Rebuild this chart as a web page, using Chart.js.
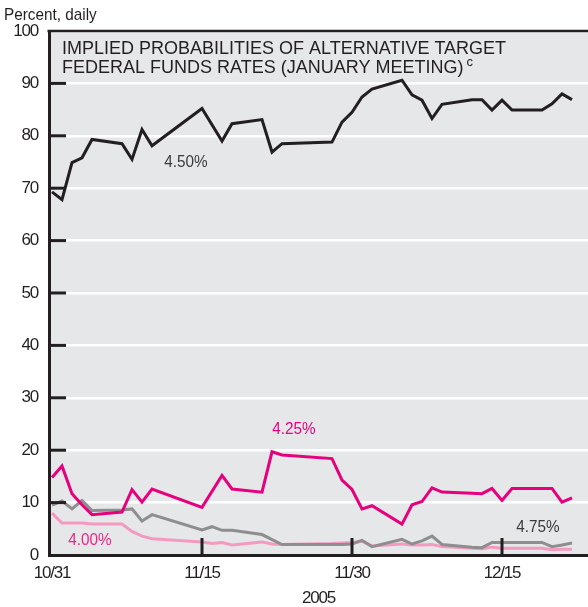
<!DOCTYPE html>
<html>
<head>
<meta charset="utf-8">
<script src="https://cdn.jsdelivr.net/npm/chart.js@4.4.0/dist/chart.umd.min.js"></script>
<style>
  html, body { margin: 0; padding: 0; background: #fff; }
  #wrap { width: 588px; height: 607px; }
</style>
</head>
<body>
<div id="wrap"><canvas id="graph" width="588" height="607"></canvas></div>
<script>
// trading days after 10/31/2005
const days = [0, 1, 2, 3, 4, 7, 8, 9, 10, 15, 16, 17, 18, 21, 22, 23, 28, 29, 30, 31, 32, 35, 36, 37, 38, 39, 42, 43, 44, 45, 46, 49, 50, 51, 52];
const tickDays = [0, 15, 30, 45];
const tickLabels = ["10/31", "11/15", "11/30", "12/15"];

// implied probabilities, percent (null = no visible vertex)
const rate450 = [69.3, 67.8, 74.9, 75.8, 79.3, 78.5, 75.5, 81.2, 78.1, 85.2, null, 79.0, 82.3, 83.1, 76.9, 78.5, 78.8, 82.6, 84.5, 87.4, 88.9, 90.6, 87.8, 86.8, 83.3, 86.0, 86.9, 86.9, 84.9, 86.8, 84.9, 84.9, 86.1, 88.0, 86.9];
const rate425 = [14.8, 17.0, 11.7, 9.6, 7.7, 8.2, 12.5, 10.1, 12.6, 9.1, null, 15.2, 12.6, 12.0, 19.7, 19.1, 18.4, 14.3, 12.5, 8.8, 9.4, 5.9, 9.6, 10.2, 12.8, 12.0, 11.8, 11.7, 12.7, 10.4, 12.7, 12.7, 12.7, 10.1, 10.9];
const rate475 = [9.5, 10.3, 8.8, 10.4, 8.5, 8.6, 8.8, 6.5, 7.7, 4.8, 5.4, 4.7, 4.7, 3.9, null, 2.0, 2.0, 2.0, 2.1, 2.8, 1.6, 3.0, 2.1, 2.7, 3.6, 2.0, 1.5, 1.4, 2.4, 2.4, 2.4, 2.4, 1.6, 1.9, 2.3];
const rate400 = [8.0, 6.1, 6.1, 6.1, 5.9, 5.9, 4.5, 3.6, 3.1, 2.5, 2.2, 2.4, 1.9, 2.5, 2.1, 2.0, 2.2, 2.3, 2.4, 2.6, 1.7, 2.1, 1.9, 1.9, 2.0, 1.6, 1.3, 1.2, 1.5, 1.3, 1.3, 1.3, 1.0, 1.1, 1.1];

const plain = '"Liberation Sans", Arial, sans-serif';
const ink = '#231f20';

function pts(vals) {
    return days.map((d, i) => ({ x: d, y: vals[i] }));
}

// squeeze text sideways, the original uses a condensed face
function narrowText(ctx, text, x, y, align, squeeze) {
    ctx.save();
    ctx.translate(x, y);
    ctx.scale(squeeze, 1);
    ctx.textAlign = align;
    ctx.fillText(text, 0, 0);
    ctx.restore();
}

// gray panel, inner tick marks, top rule and the text
const decor = {
    id: 'decor',
    beforeDraw(chart) {
        const { ctx, chartArea: a } = chart;
        ctx.save();
        ctx.fillStyle = '#e6e7e8';
        ctx.fillRect(a.left, a.top, a.right - a.left, a.bottom - a.top);
        ctx.restore();
        ctx.letterSpacing = '-1.2px'; // tighter tick labels
    },
    afterDraw(chart) {
        const { ctx, chartArea: a } = chart;
        const xs = chart.scales.x, ys = chart.scales.y;
        ctx.letterSpacing = '0px';
        ctx.save();
        ctx.strokeStyle = ink;
        ctx.lineWidth = 3;
        for (let v = 10; v < 100; v += 10) {
            const y = ys.getPixelForValue(v);
            ctx.beginPath(); ctx.moveTo(a.left, y); ctx.lineTo(a.left + 17, y); ctx.stroke();
        }
        for (let i = 1; i < tickDays.length; i++) {
            const x = xs.getPixelForValue(tickDays[i]);
            ctx.beginPath(); ctx.moveTo(x, a.bottom); ctx.lineTo(x, a.bottom - 17); ctx.stroke();
        }
        ctx.lineWidth = 2.5;
        ctx.beginPath(); ctx.moveTo(a.left - 1.5, a.top); ctx.lineTo(a.right, a.top); ctx.stroke();

        ctx.textBaseline = 'middle';
        ctx.fillStyle = ink;
        ctx.font = '17px ' + plain;
        narrowText(ctx, 'Percent, daily', 4, 15, 'left', 0.9);

        ctx.font = '18px ' + plain;
        ctx.textAlign = 'left';
        ctx.fillText('IMPLIED PROBABILITIES OF ALTERNATIVE TARGET', 62, 49);
        const l2 = 'FEDERAL FUNDS RATES (JANUARY MEETING)';
        ctx.fillText(l2, 62, 68);
        const w2 = ctx.measureText(l2).width;
        ctx.font = '13px ' + plain;
        ctx.fillText('c', 62 + w2 + 3, 62);

        ctx.font = '17px ' + plain;
        const notes = [
            ['4.50%', 13.4, 75.0, '#3a3a3a'],
            ['4.25%', 24.2, 23.9, '#e6007e'],
            ['4.00%', 3.8, 2.8, '#e8268c'],
            ['4.75%', 48.6, 5.2, '#3a3a3a']
        ];
        notes.forEach(n => {
            ctx.fillStyle = n[3];
            narrowText(ctx, n[0], xs.getPixelForValue(n[1]), ys.getPixelForValue(n[2]), 'center', 0.9);
        });
        ctx.restore();
    }
};

const ctx = document.getElementById('graph').getContext('2d');
const chart = new Chart(ctx, {
    type: 'line',
    data: {
        datasets: [
            { label: '4.50%', data: pts(rate450), borderColor: ink, order: 1 },
            { label: '4.25%', data: pts(rate425), borderColor: '#e6007e', order: 2 },
            { label: '4.75%', data: pts(rate475), borderColor: '#8e8e8e', order: 3 },
            { label: '4.00%', data: pts(rate400), borderColor: '#f49ac1', order: 4 }
        ]
    },
    options: {
        responsive: false,
        animation: false,
        devicePixelRatio: 1,
        spanGaps: true,
        layout: { padding: { top: 31, right: 0, left: 0, bottom: 0 } },
        elements: {
            line: { borderWidth: 3, tension: 0, borderJoinStyle: 'miter', borderCapStyle: 'butt' },
            point: { radius: 0 }
        },
        plugins: {
            legend: { display: false },
            tooltip: { enabled: false },
            title: { display: false }
        },
        scales: {
            x: {
                type: 'linear',
                min: -0.3,
                max: 53.6,
                afterBuildTicks: s => { s.ticks = tickDays.map(v => ({ value: v })); },
                afterFit: s => { s.height = 52; },
                ticks: {
                    autoSkip: false,
                    maxRotation: 0,
                    padding: 8,
                    color: ink,
                    font: { family: plain, size: 17 },
                    callback: v => tickLabels[tickDays.indexOf(v)]
                },
                grid: { display: false, drawTicks: false },
                border: { color: ink, width: 3 },
                title: {
                    display: true,
                    text: '2005',
                    color: ink,
                    font: { family: plain, size: 17 },
                    padding: { top: 0, bottom: -2 }
                }
            },
            y: {
                min: 0,
                max: 100,
                afterFit: s => { s.width = 49; },
                ticks: {
                    stepSize: 10,
                    padding: 11,
                    color: ink,
                    font: { family: plain, size: 17 }
                },
                grid: { color: '#ffffff', lineWidth: 2.5, drawTicks: false },
                border: { color: ink, width: 3 }
            }
        }
    },
    plugins: [decor]
});
</script>
</body>
</html>
